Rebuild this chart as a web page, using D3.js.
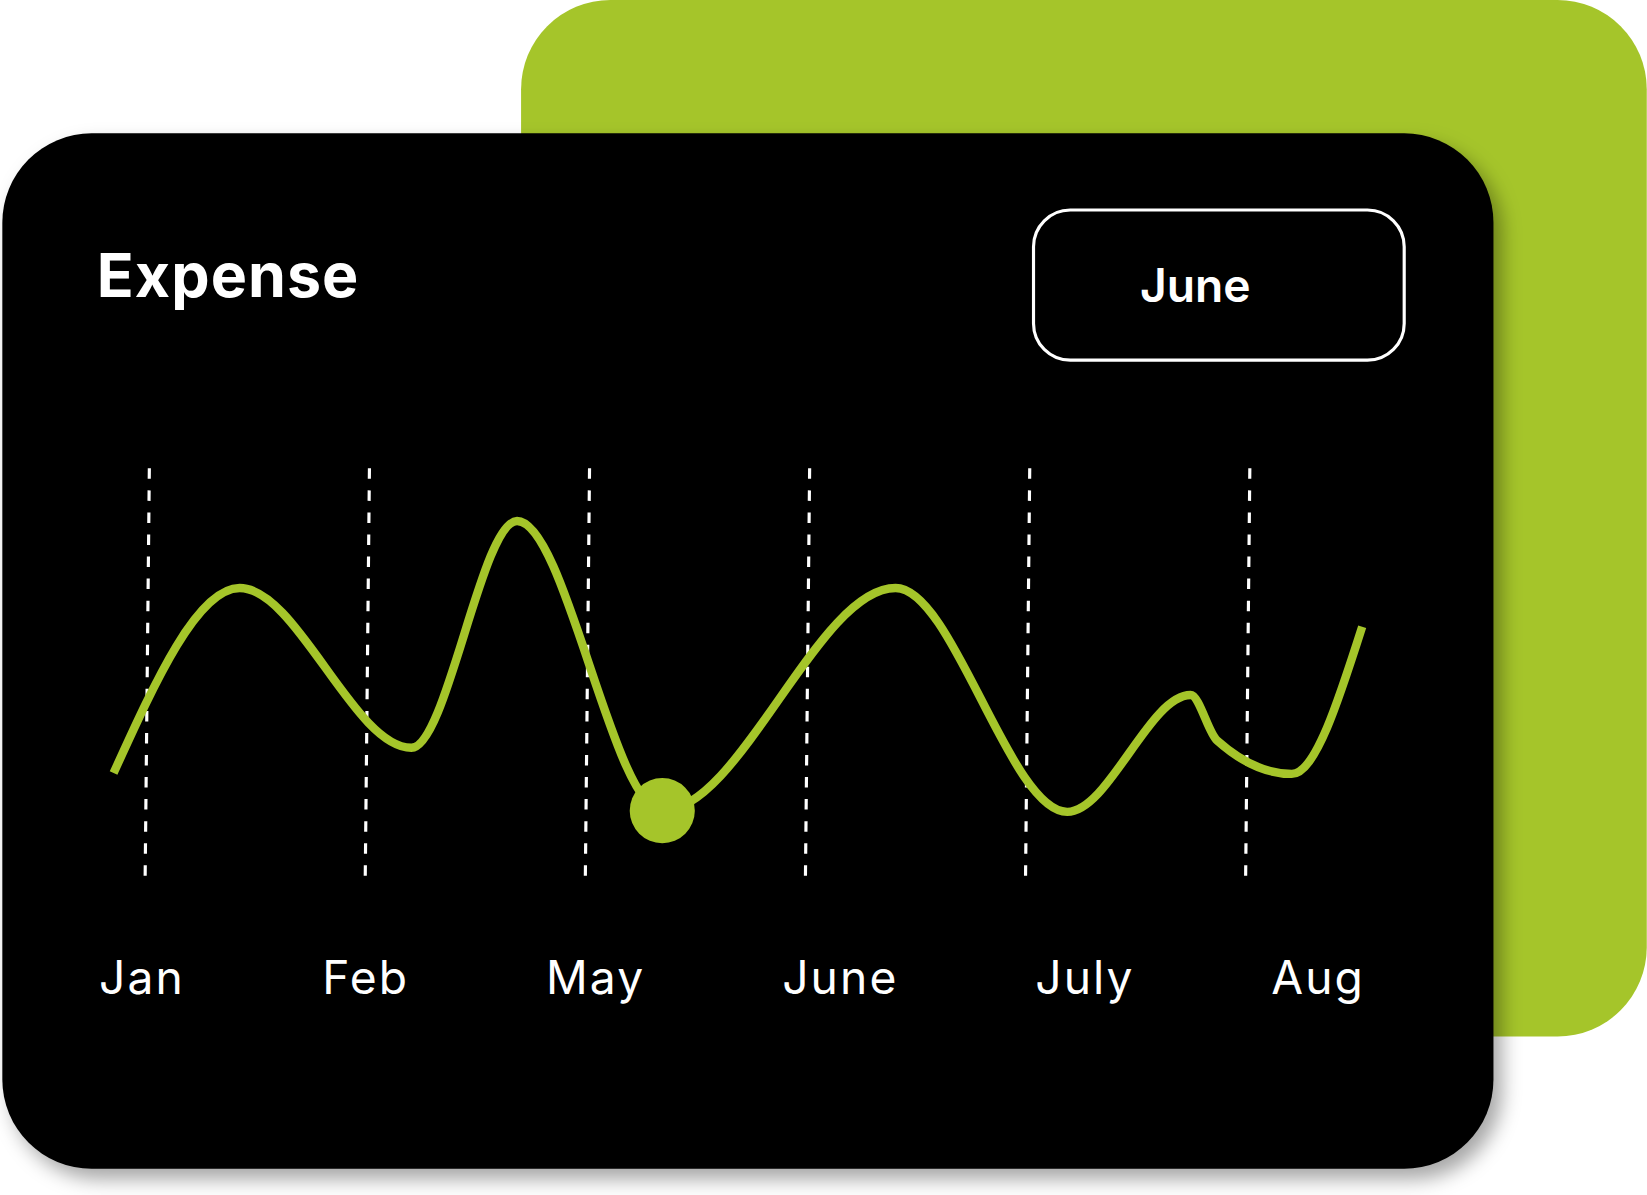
<!DOCTYPE html>
<html><head><meta charset="utf-8">
<script src="https://cdn.jsdelivr.net/npm/d3@7"></script>
<style>body{margin:0;background:#fff;overflow:hidden}svg{display:block}</style>
</head><body>
<script>
// month labels and where the dashed guides sit (index)
var months = ["Jan", "Feb", "May", "June", "July", "Aug"];
var selected = "June";
// curve: position in month units, expense value
var px = [-0.153, 0.42, 1.2, 1.68, 2.34, 3.40, 4.18, 4.74, 4.86, 5.2, 5.52];
var py = [25.4, 70.7, 31.6, 87.1, 16.2, 70.7, 15.9, 44.5, 33.4, 25.2, 61.2];
var markerIndex = 4;

var green = "#a5c52a";
var svg = d3.select("body").append("svg")
    .attr("width", 1647).attr("height", 1195)
    .attr("viewBox", "0 0 1568 1138");

var defs = svg.append("defs");
var f = defs.append("filter").attr("id", "sh").attr("x", "-10%").attr("y", "-10%")
    .attr("width", "130%").attr("height", "130%");
f.append("feDropShadow").attr("dx", 8).attr("dy", 10).attr("stdDeviation", 9)
    .attr("flood-color", "#000").attr("flood-opacity", 0.35);

svg.append("rect").attr("x", 496).attr("y", 0).attr("width", 1072).attr("height", 987)
    .attr("rx", 85).attr("fill", green);
svg.append("rect").attr("x", 2).attr("y", 127).attr("width", 1420).attr("height", 986)
    .attr("rx", 85).attr("fill", "#000").attr("filter", "url(#sh)");

var font = "Inter, 'Open Sans', sans-serif";
svg.append("text").attr("x", 92).attr("y", 283).text("Expense")
    .attr("fill", "#fff").attr("font-family", font).attr("font-weight", 700)
    .attr("font-size", 58).attr("letter-spacing", 1);

svg.append("rect").attr("x", 984).attr("y", 200).attr("width", 353).attr("height", 143)
    .attr("rx", 35).attr("fill", "none").attr("stroke", "#fff").attr("stroke-width", 3);
svg.append("text").attr("x", 1138).attr("y", 288).attr("text-anchor", "middle").text(selected)
    .attr("fill", "#fff").attr("font-family", font).attr("font-weight", 600).attr("font-size", 44);

var x = d3.scaleLinear().domain([0, months.length - 1]).range([140, 1188]);
var y = d3.scaleLinear().domain([0, 100]).range([835, 446]);

// dashed guides, slightly slanted
svg.selectAll(".guide").data(months).enter().append("line")
    .attr("x1", function (d, i) { return x(i) + 2; }).attr("y1", y(100))
    .attr("x2", function (d, i) { return x(i) - 2; }).attr("y2", y(0))
    .attr("stroke", "#fff").attr("stroke-width", 3).attr("stroke-dasharray", "10,11");

var labelX = [135, 348, 567, 800, 1033, 1255];
svg.selectAll(".lab").data(months).enter().append("text")
    .attr("x", function (d, i) { return labelX[i]; }).attr("y", 947)
    .attr("text-anchor", "middle").text(function (d) { return d; })
    .attr("fill", "#fff").attr("font-family", font).attr("font-weight", 400)
    .attr("font-size", 44).attr("letter-spacing", 2);

var pts = px.map(function (v, i) { return [x(v), y(py[i])]; });
var line = d3.line().curve(d3.curveMonotoneX);
svg.append("path").attr("d", line(pts)).attr("fill", "none")
    .attr("stroke", green).attr("stroke-width", 8);

svg.append("circle").attr("cx", pts[markerIndex][0]).attr("cy", pts[markerIndex][1])
    .attr("r", 31).attr("fill", green);
</script>
</body></html>
